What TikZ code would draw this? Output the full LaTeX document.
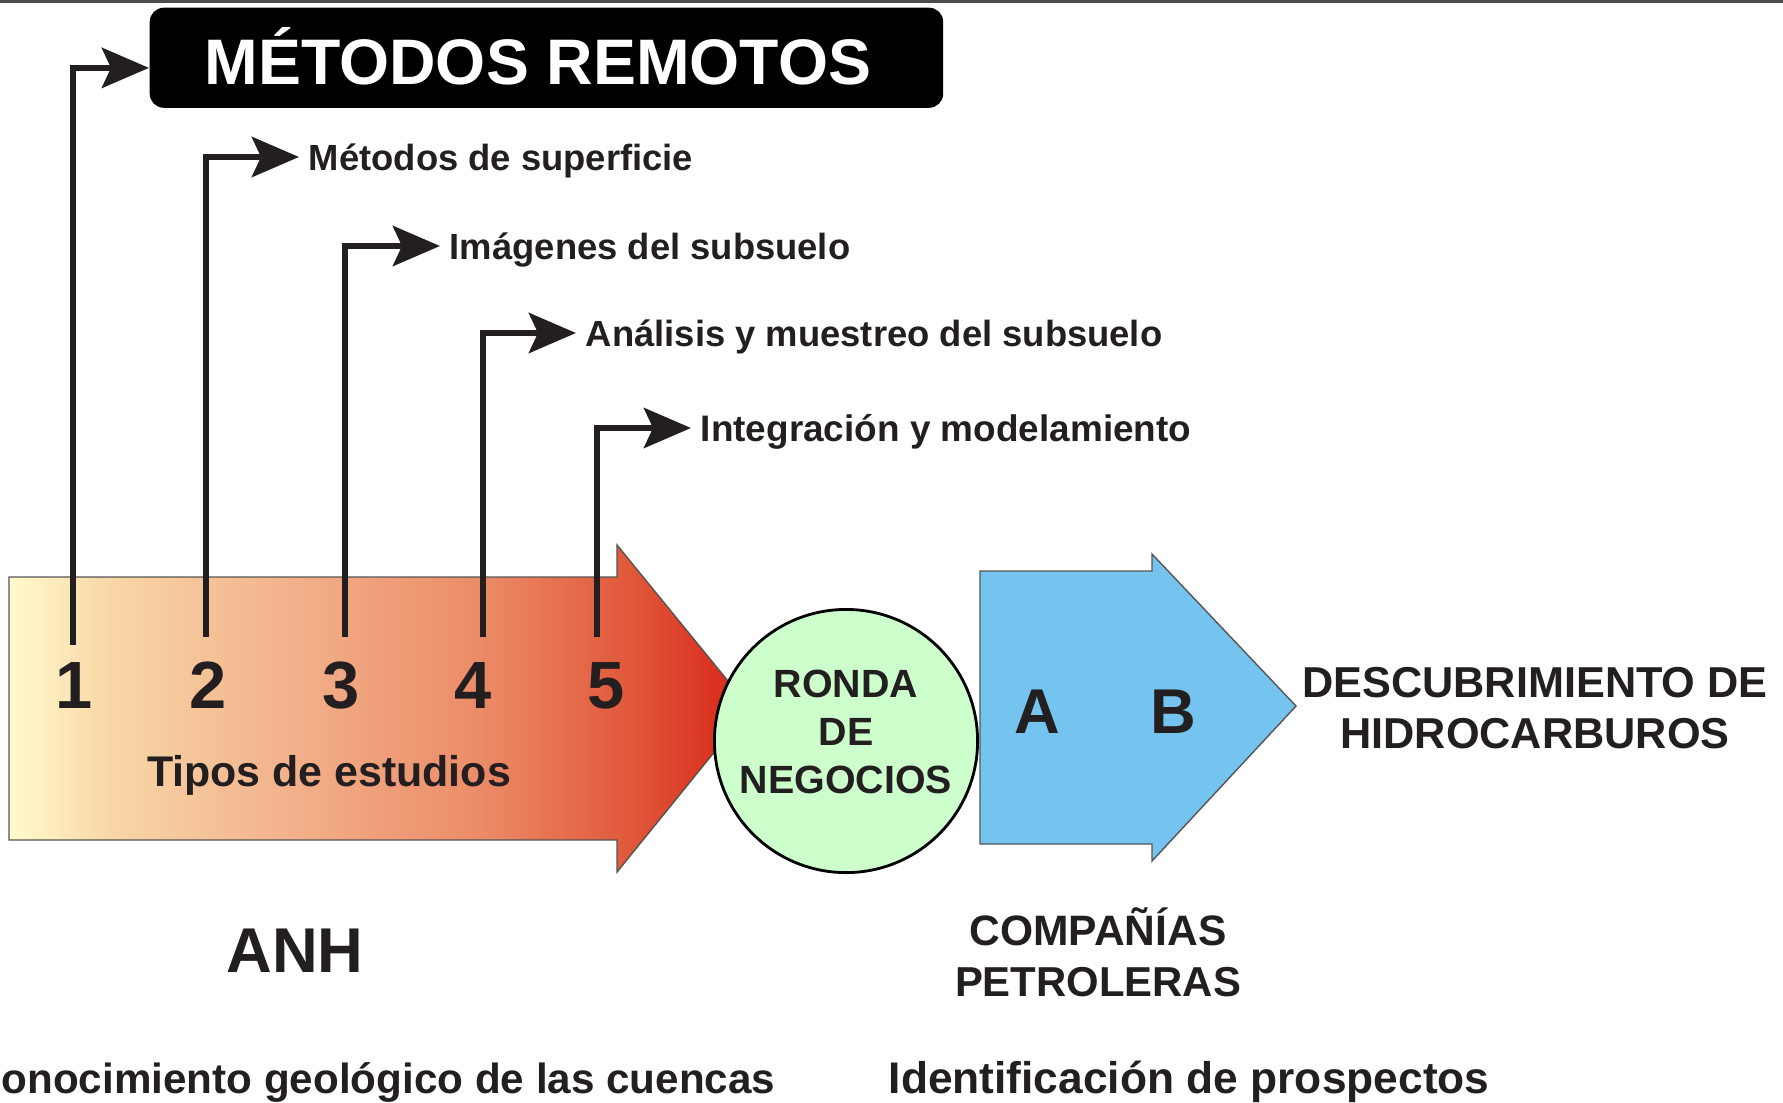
\documentclass[tikz,border=0pt]{standalone}
\usepackage{fontspec}
\setmainfont{Liberation Sans}
\usetikzlibrary{arrows.meta,calc}
\definecolor{ink}{HTML}{231F20}
\definecolor{topgray}{HTML}{4D4D4D}
\definecolor{greenf}{HTML}{CCFFCC}
\definecolor{bluef}{HTML}{75C4EF}
\definecolor{edgegray}{HTML}{555555}
\definecolor{g0}{HTML}{FFFBCC}
\definecolor{g1}{HTML}{F8D6A6}
\definecolor{g2}{HTML}{F2AE88}
\definecolor{g3}{HTML}{EC8C68}
\definecolor{g4}{HTML}{E05538}
\definecolor{g5}{HTML}{DA3220}
\definecolor{g6}{HTML}{D92B1C}
\pgfdeclarehorizontalshading{redgrad}{100bp}{color(0bp)=(g0); color(25bp)=(g0); color(32bp)=(g1); color(45bp)=(g2); color(56.6bp)=(g3); color(67.4bp)=(g4); color(72.7bp)=(g5); color(75bp)=(g6); color(100bp)=(g6)}
\newcommand\myfs[1]{\fontsize{#1}{#1}\selectfont\bfseries}
\tikzset{
  brk/.style={line width=1.75pt, draw=ink, -{Stealth[length=13.4pt, width=11.4pt, inset=2.6pt]}},
  lbl/.style={anchor=base west, inner xsep=2.6pt, inner ysep=0pt, text height=7.4pt, text depth=0pt, text=ink, font=\myfs{10.35pt}},
  digit/.style={anchor=base, inner sep=0pt, text=ink, font=\myfs{19pt}},
  txt/.style={anchor=base, inner sep=0pt, text=ink},
}
\begin{document}
\begin{tikzpicture}[x=0.01cm,y=-0.01cm]
\useasboundingbox (0,0) rectangle (1783,1102);
\fill[topgray] (0,0) rectangle (1783,3);

% title
\node[fill=black, rounded corners=4pt, minimum width=7.93cm, minimum height=1cm, anchor=north west, inner sep=0pt] (title) at (149,7) {};
\node[anchor=base west, inner sep=0pt, text=white, font=\myfs{18.3pt}] (titletxt) at (204,84) {MÉTODOS REMOTOS};

% red arrow
\shadedraw[shading=redgrad, shading angle=0, draw=edgegray, line width=0.4pt]
  (9,577) -- (617,577) -- (617,545) -- (750,708) -- (617,872) -- (617,840) -- (9,840) -- cycle;

% labels
\node[lbl] (lab2) at (299,170) {Métodos de superficie};
\node[lbl] (lab3) at (440,259) {Imágenes del subsuelo};
\node[lbl] (lab4) at (576,346) {Análisis y muestreo del subsuelo};
\node[lbl, font=\myfs{10.5pt}] (lab5) at (691,441) {Integración y modelamiento};

% digits
\node[digit] (d1) at (74,708) {1};
\node[digit] (d2) at (208,708) {2};
\node[digit] (d3) at (341,708) {3};
\node[digit] (d4) at (473,708) {4};
\node[digit] (d5) at (606,708) {5};
\node[txt, font=\myfs{12.2pt}] (tipos) at (329,786) {Tipos de estudios};

% bracket connectors
\coordinate (b1) at (73,645);
\coordinate (b2) at (206,637);
\coordinate (b3) at (345,637);
\coordinate (b4) at (483,637);
\coordinate (b5) at (597,637);
\draw[brk] (b1) |- ($(title.north west)!0.6!(title.south west)$);
\draw[brk] (b2) |- (lab2.west);
\draw[brk] (b3) |- (lab3.west);
\draw[brk] (b4) |- (lab4.west);
\draw[brk] (b5) |- (lab5.west);

% circle
\node[circle, draw=black, line width=0.8pt, fill=greenf, minimum size=2.63cm, inner sep=0pt] (ronda) at (846,741) {};
\node[txt, font=\myfs{11.2pt}] (r1) at (846,697) {RONDA};
\node[txt, font=\myfs{11.2pt}] (r2) at (846,745) {DE};
\node[txt, font=\myfs{11.2pt}] (r3) at (846,793) {NEGOCIOS};

% blue arrow
\filldraw[fill=bluef, draw=edgegray, line width=0.4pt]
  (980,571) -- (1152,571) -- (1152,554) -- (1296,706) -- (1152,861) -- (1152,844) -- (980,844) -- cycle;
\node[txt, font=\myfs{18pt}] (A) at (1037,733) {A};
\node[txt, font=\myfs{18pt}] (B) at (1173,733) {B};

% right text
\node[txt, font=\myfs{12.3pt}] (desc1) at (1535,697) {DESCUBRIMIENTO DE};
\node[txt, font=\myfs{12.3pt}] (desc2) at (1535,748) {HIDROCARBUROS};

% lower texts
\node[txt, font=\myfs{18pt}] (anh) at (295,972) {ANH};
\node[txt, font=\myfs{12.1pt}] (comp1) at (1098,945) {COMPAÑÍAS};
\node[txt, font=\myfs{11.9pt}] (comp2) at (1098,996) {PETROLERAS};
\node[anchor=base east, inner sep=0pt, text=ink, font=\myfs{12.0pt}] (conoc) at (776,1093) {Conocimiento geológico de las cuencas};
\node[anchor=base west, inner sep=0pt, text=ink, font=\myfs{12.6pt}] (ident) at (888,1093) {Identificación de prospectos};
\end{tikzpicture}
\end{document}
